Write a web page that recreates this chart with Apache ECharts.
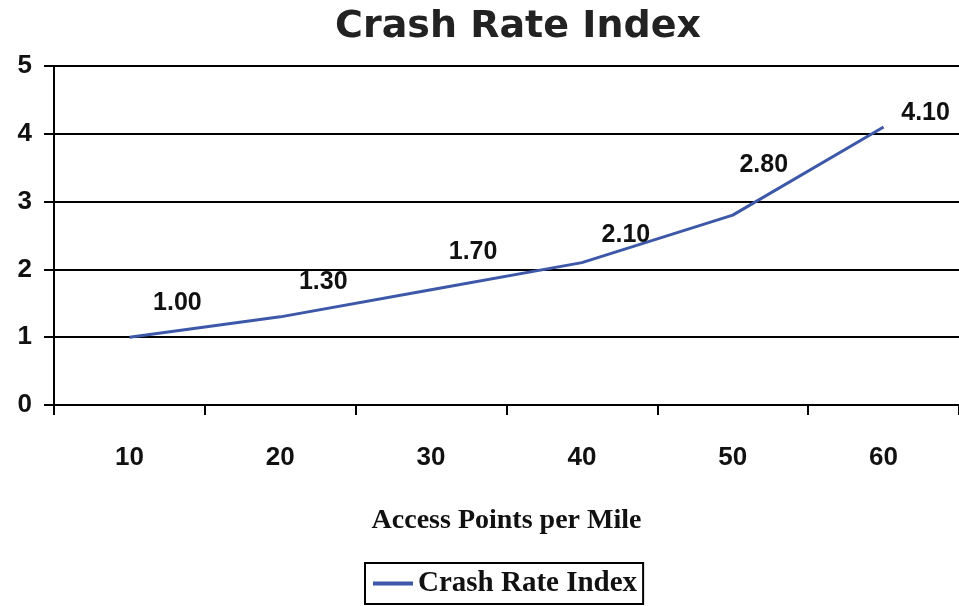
<!DOCTYPE html>
<html><head><meta charset="utf-8">
<script src="https://cdn.jsdelivr.net/npm/echarts@6/dist/echarts.min.js"></script>
<style>html,body{margin:0;padding:0;background:#fff}#c{width:959px;height:606px}</style>
</head><body><div id="c"></div>
<script>
const categories = ['10','20','30','40','50','60'];
const crashRate = [1.00, 1.30, 1.70, 2.10, 2.80, 4.10];
const yTicks = [0,1,2,3,4,5];
const labelOffsets = [[48,-4],[43,-4],[42,-7],[44,3],[31,-20],[42,17]];

const chart = echarts.init(document.getElementById('c'));
chart.setOption({
  animation:false,
  title:{text:'Crash Rate Index',left:513,top:3,textAlign:'center',
    textStyle:{fontFamily:'DejaVu Sans',fontWeight:'bold',fontSize:38,color:'#222'}},
  grid:{left:54,right:-3,top:66,bottom:201},
  legend:{bottom:2,left:365,itemWidth:40,itemHeight:4,itemGap:4,
    borderColor:'#000',borderWidth:2,padding:[6,6,6,8],
    icon:'rect',
    textStyle:{fontFamily:'Liberation Serif',fontWeight:'bold',fontSize:29,color:'#111'},
    data:['Crash Rate Index']},
  xAxis:{type:'category',data:categories,boundaryGap:true,
    name:'Access Points per Mile',nameLocation:'middle',nameGap:102,
    nameTextStyle:{fontFamily:'Liberation Serif',fontWeight:'bold',fontSize:28,color:'#111'},
    axisLine:{lineStyle:{color:'#000',width:2}},
    axisTick:{show:true,length:10,lineStyle:{color:'#000',width:2}},
    axisLabel:{margin:40,fontFamily:'Liberation Sans',fontWeight:'bold',fontSize:26,color:'#111'}},
  yAxis:{type:'value',min:0,max:5,interval:1,
    axisLine:{show:true,lineStyle:{color:'#000',width:2}},
    axisTick:{show:true,length:10,lineStyle:{color:'#000',width:2}},
    splitLine:{lineStyle:{color:'#000',width:2}},
    axisLabel:{margin:22,fontFamily:'Liberation Sans',fontWeight:'bold',fontSize:26,color:'#111',
      formatter:v=>yTicks.includes(v)?String(v):''}},
  series:[{name:'Crash Rate Index',type:'line',data:crashRate.map((v,i)=>({value:v,
      label:{offset:labelOffsets[i]}})),
    symbol:'circle',symbolSize:0,showSymbol:true,smooth:false,
    lineStyle:{color:'#3d58a8',width:3},itemStyle:{color:'#3d58a8'},
    label:{show:true,position:'top',distance:18,
      formatter:p=>p.value.toFixed(2),
      fontFamily:'Liberation Sans',fontWeight:'bold',fontSize:25,color:'#111'}}]
});
</script></body></html>
